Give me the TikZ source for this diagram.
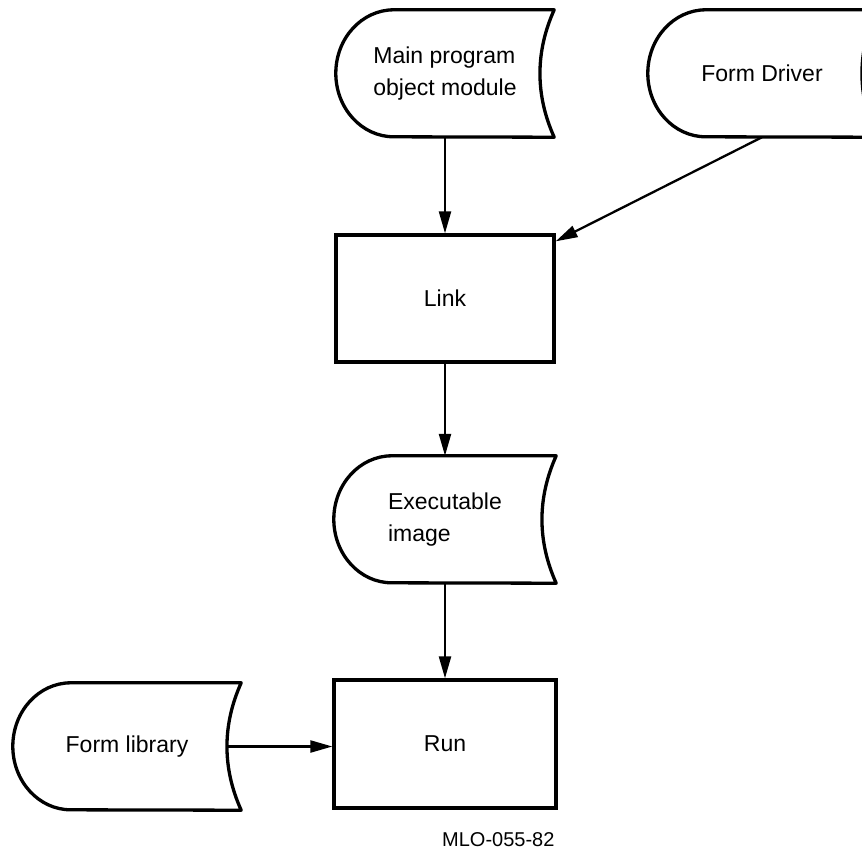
\documentclass[tikz,border=0pt]{standalone}
\usepackage{fontspec}
\setmainfont{Liberation Sans}
\usetikzlibrary{arrows.meta}

\tikzset{
  Box/.style = {draw, line width=3.3pt, minimum width=218pt, minimum height=127pt,
                inner sep=0pt, font=\fontsize{23}{32}\selectfont},
  Stored/.style = {minimum width=218pt, minimum height=127pt, inner sep=0pt,
                   align=left, font=\fontsize{23}{32}\selectfont},
  StoredLine/.style = {line width=3.3pt, line join=round},
  Flow/.style = {line width=2.3pt, -{Triangle[length=22pt,width=12pt]}},
}

% outline of a stored data symbol round a named node
\newcommand{\StoredData}[1]{%
  \draw[StoredLine] (#1.north east) -- ([xshift=58pt]#1.north west)
    arc[start angle=90, end angle=270, x radius=58pt, y radius=63.5pt]
    -- (#1.south east) .. controls +(-19pt,42pt) and +(-19pt,-42pt) .. (#1.north east) -- cycle;}

\begin{document}
\begin{tikzpicture}[x=1pt, y=-1pt]
    \useasboundingbox (0,0) rectangle (862,852);
    \clip (0,0) rectangle (862,852);

    \node[Stored] (main) at (445,73.5) {Main program\\object module};
    \node[Stored, minimum width=228pt] (driver) at (762,73.5) {Form Driver};
    \node[Box] (link) at (445,298.5) {Link};
    \node[Stored, minimum width=222pt] (exec) at (445,519.5) {Executable\\image};
    \node[Box, minimum width=222pt, minimum height=128pt] (run) at (445,744) {Run};
    \node[Stored, minimum width=228pt] (lib) at (127,746.5) {Form library};
    \node[anchor=base east, font=\fontsize{20}{20}\selectfont] (code) at (558,846) {MLO-055-82};

    \StoredData{main}
    \StoredData{driver}
    \StoredData{exec}
    \StoredData{lib}

    \draw[Flow] (main) -- (link);
    \draw[Flow] (driver.south) -- ([yshift=-8pt]link.north east);
    \draw[Flow] (link) -- (exec);
    \draw[Flow] (exec) -- (run);
    \draw[Flow] ([xshift=-14pt]lib.east) -- (lib.east -| run.west);
\end{tikzpicture}
\end{document}
